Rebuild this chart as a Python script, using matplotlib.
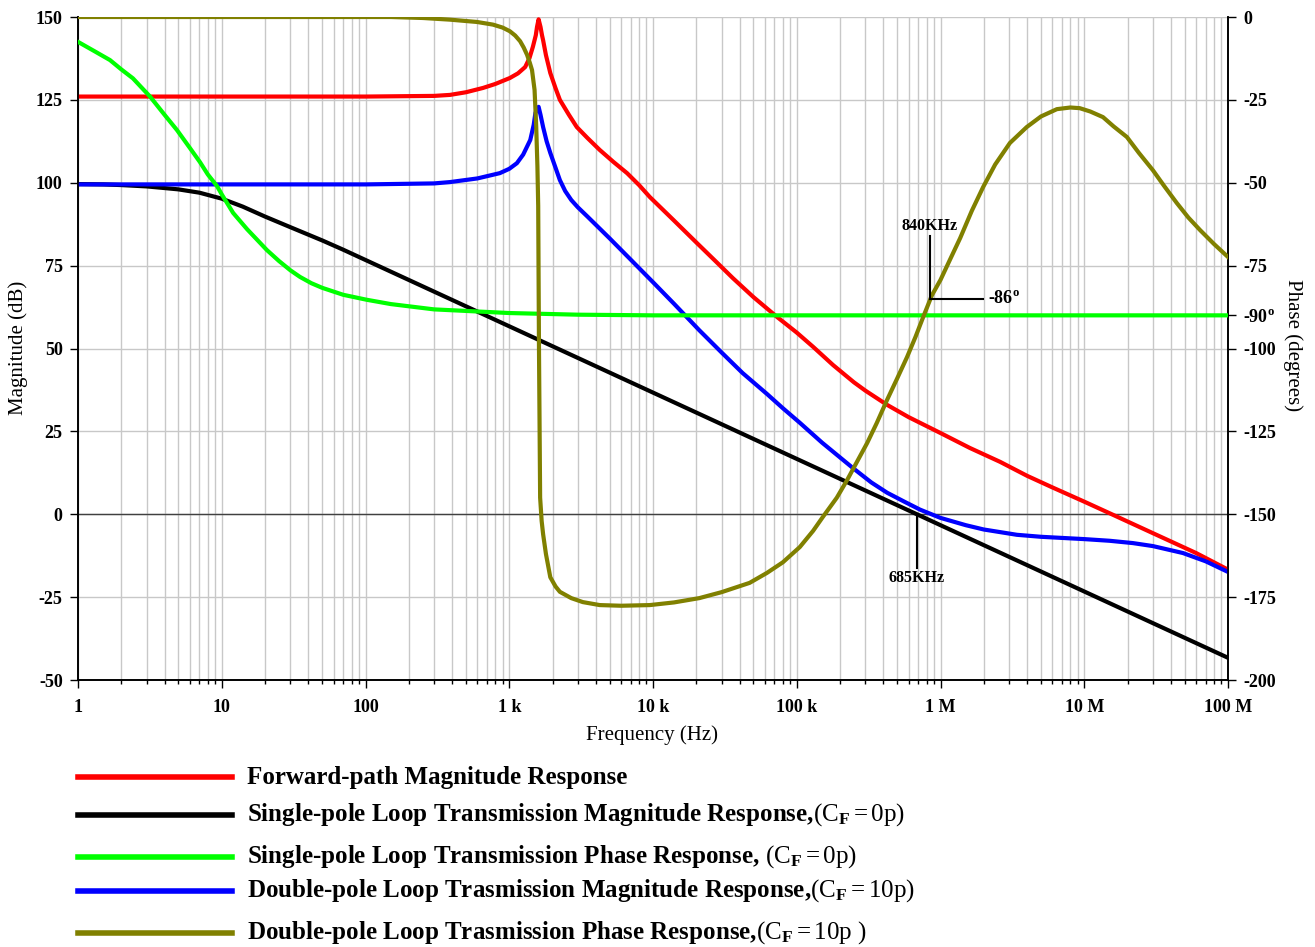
import numpy as np
import matplotlib
matplotlib.use("Agg")
import matplotlib.pyplot as plt
from matplotlib.lines import Line2D
from matplotlib.ticker import FixedLocator, LogLocator, NullFormatter

plt.rcParams["font.family"] = ["Liberation Serif", "DejaVu Serif"]
plt.rcParams["axes.unicode_minus"] = False
plt.rcParams["mathtext.fontset"] = "custom"
plt.rcParams["mathtext.rm"] = "Liberation Serif"
plt.rcParams["mathtext.bf"] = "Liberation Serif:bold"
plt.rcParams["mathtext.it"] = "Liberation Serif:italic"

# ---- data (frequency in Hz) ----
freq_red = [1, 100, 300, 387, 500, 657, 800, 1010, 1150, 1290, 1380, 1460, 1530, 1560,
            1600, 1650, 1690, 1720, 1800, 1930, 2100, 2250, 2600, 2950, 3500, 4260,
            5300, 6600, 8000, 9500, 14000, 20000, 27000, 36000, 50000, 73000, 100000,
            130000, 179000, 250000, 300000, 425000, 600000, 1e6, 1.6e6, 2.6e6, 4e6,
            6e6, 10e6, 14.5e6, 30e6, 60e6, 100e6]
mag_red = [126, 126, 126.2, 126.5, 127.3, 128.6, 129.8, 131.6, 133, 134.9, 137.5, 141,
           144.5, 147, 149.3, 147, 144.5, 143, 138.5, 133.1, 128.5, 125, 120.5, 116.8,
           113.5, 109.9, 106.3, 102.9, 99.3, 95.7, 88.6, 82, 76.5, 71.2, 65.5, 59.5,
           54.8, 50.5, 45, 39.8, 37.3, 33, 29.3, 24.5, 20, 15.8, 11.6, 8.1, 3.8, 0.6,
           -5.7, -11.7, -16.7]

freq_black = [1, 1.5, 2, 3, 4, 5, 7, 10, 14, 20, 30, 50, 70, 100, 1000, 10000, 100000,
              685000, 1e6, 10e6, 100e6]
mag_black = [99.6, 99.5, 99.3, 98.9, 98.4, 98.0, 97.0, 95.2, 92.8, 89.8, 86.6, 82.6,
             79.8, 76.7, 56.7, 36.7, 16.7, 0, -3.3, -23.3, -43.3]

freq_blue = [1, 100, 300, 387, 600, 860, 1000, 1130, 1250, 1400, 1480, 1520, 1570, 1600,
             1650, 1720, 1820, 1930, 2100, 2250, 2450, 2700, 3000, 3500, 5000, 7000,
             10000, 14000, 21000, 30000, 42000, 62000, 80000, 105000, 150000, 245000,
             330000, 425000, 560000, 720000, 1e6, 1.5e6, 2e6, 3.4e6, 5e6, 10e6, 15e6,
             21.8e6, 30e6, 48.6e6, 70e6, 100e6]
mag_blue = [99.5, 99.5, 99.8, 100.2, 101.3, 102.9, 104.2, 105.9, 108.5, 112.9, 117.5,
            121, 122.5, 122.9, 120.5, 116.8, 112.5, 109, 104.5, 100.8, 97.5, 94.8, 92.6,
            89.8, 83.2, 76.8, 70, 63.5, 55.5, 48.8, 42.6, 36.3, 32, 27.6, 21.6, 14, 9.6,
            6.5, 3.8, 1.4, -1.1, -3.3, -4.6, -6.2, -6.8, -7.5, -8.0, -8.7, -9.6, -11.7,
            -14.2, -17.4]

freq_green = [1, 1.3, 1.67, 2, 2.41, 3.17, 4, 4.88, 6, 7.06, 8, 9.27, 10, 12, 15, 20.6,
              25, 30, 35, 42, 50, 70, 102, 150, 300, 1000, 3000, 10000, 100e6]
ph_green = [-7.5, -10.3, -13, -15.8, -18.5, -24, -29.5, -34.1, -39.5, -43.8, -47.5,
            -51, -53.5, -59.1, -64, -70.3, -73.6, -76.4, -78.4, -80.3, -81.7, -83.8,
            -85.3, -86.6, -88.2, -89.3, -89.8, -90, -90]

freq_olive = [1, 150, 251, 387, 597, 771, 900, 1010, 1100, 1190, 1260, 1330, 1390, 1440,
              1500, 1540, 1570, 1590, 1610, 1640, 1680, 1720, 1800, 1930, 2100, 2250,
              2700, 3250, 4260, 6000, 9500, 14000, 21000, 30000, 47000, 62000, 80000,
              105000, 130000, 152000, 190000, 224000, 260000, 309000, 360000, 425000,
              500000, 585000, 670000, 758000, 870000, 1e6, 1.17e6, 1.37e6, 1.65e6,
              1.98e6, 2.4e6, 3.04e6, 3.98e6, 5e6, 6.45e6, 8e6, 9.3e6, 11e6, 13.5e6,
              16e6, 19.8e6, 24e6, 30e6, 36e6, 44e6, 53e6, 64e6, 80e6, 100e6]
ph_olive = [0, 0, -0.3, -0.8, -1.5, -2.3, -3.2, -4.3, -5.6, -7.3, -9.2, -11.4, -13.8,
            -16, -22, -33, -45, -57, -100, -145, -152, -156, -162, -169, -171.8,
            -173.4, -175.3, -176.5, -177.4, -177.6, -177.4, -176.6, -175.3, -173.5,
            -170.7, -167.7, -164.5, -159.9, -155, -150.8, -145, -139.7, -134.5, -128.5,
            -122.5, -115.5, -109, -102.6, -96.5, -90.5, -84, -79.3, -73, -66.7, -58.5,
            -51.3, -44.5, -38, -33.2, -30, -27.8, -27.3, -27.5, -28.5, -30.2, -33,
            -36.2, -41, -46.2, -51, -56.1, -60.5, -64.3, -68.5, -72.4]

mag_ticks = [150, 125, 100, 75, 50, 25, 0, -25, -50]
phase_ticks = [0, -25, -50, -75, -90, -100, -125, -150, -175, -200]
phase_labels = ["0", "-25", "-50", "-75", r"-90$^{\mathbf{o}}$", "-100", "-125",
                "-150", "-175", "-200"]
freq_ticks = [1, 10, 100, 1e3, 1e4, 1e5, 1e6, 1e7, 1e8]
freq_labels = ["1", "10", "100", "1 k", "10 k", "100 k", "1 M", "10 M", "100 M"]

legend_items = [
    ("#ff0000", "Forward-path Magnitude Response"),
    ("#000000", r"Single-pole Loop Transmission Magnitude Response,$\mathrm{(C_{\mathbf{F}} = 0p)}$"),
    ("#00ff00", r"Single-pole Loop Transmission Phase Response, $\mathrm{(C_{\mathbf{F}} = 0p)}$"),
    ("#0000ff", r"Double-pole Loop Trasmission Magnitude Response,$\mathrm{(C_{\mathbf{F}} = 10p)}$"),
    ("#808000", r"Double-pole Loop Trasmission Phase Response,$\mathrm{(C_{\mathbf{F}} = 10p\ )}$"),
]
legend_y = [777, 815, 857, 891, 933]

W, H = 1315, 947
fig = plt.figure(figsize=(W / 100, H / 100), dpi=100)
ax = fig.add_axes([78 / W, 1 - 680 / H, 1150 / W, 663 / H])
ax2 = ax.twinx()

ax.set_xscale("log")
ax.set_xlim(1, 1e8)
ax.set_ylim(-50, 150)
ax2.set_ylim(-200, 0)

# grid
ax.xaxis.set_major_locator(FixedLocator(freq_ticks))
ax.xaxis.set_minor_locator(LogLocator(base=10, subs=np.arange(2, 10)))
ax.xaxis.set_minor_formatter(NullFormatter())
ax.set_xticklabels(freq_labels)
ax.set_yticks(mag_ticks)
ax.grid(True, which="both", axis="x", color="#c8c8c8", lw=1.0)
ax.grid(True, which="major", axis="y", color="#c8c8c8", lw=1.0)
ax.axhline(0, color="#404040", lw=1.0, zorder=1.5)
ax.set_axisbelow(True)

lw = 3.0
ax.plot(freq_red, mag_red, color="#ff0000", lw=lw, zorder=3)
ax.plot(freq_black, mag_black, color="#000000", lw=lw, zorder=3)
ax.plot(freq_blue, mag_blue, color="#0000ff", lw=lw, zorder=3)
ax2.plot(freq_green, ph_green, color="#00ff00", lw=lw, zorder=3)
ax2.plot(freq_olive, ph_olive, color="#808000", lw=lw, zorder=3)

ax2.set_yticks(phase_ticks)
ax2.set_yticklabels(phase_labels)

for a in (ax, ax2):
    a.spines["top"].set_visible(False)
    for s in ("left", "right", "bottom"):
        a.spines[s].set_linewidth(1.2)
    a.tick_params(which="major", direction="out", length=6, width=1, pad=5)
    a.tick_params(which="minor", direction="out", length=3, width=1)
ax.tick_params(axis="x", which="major", pad=8)

tick_font = dict(family="Liberation Serif", weight="bold", size=13)
for lab in ax.get_xticklabels() + ax.get_yticklabels() + ax2.get_yticklabels():
    lab.set_fontproperties(tick_font)

label_font = dict(family="Liberation Serif", size=15)
fig.text(652 / W, 1 - 735 / H, "Frequency (Hz)", ha="center", va="center", **label_font)
fig.text(18 / W, 1 - 348 / H, "Magnitude (dB)", ha="center", va="center",
         rotation=90, **label_font)
fig.text(1293 / W, 1 - 345 / H, "Phase (degrees)", ha="center", va="center",
         rotation=270, **label_font)

# annotations
ann = dict(color="black", lw=1.5, zorder=5)
ax2.plot([840e3, 840e3], [-66, -85], **ann)
ax2.plot([840e3, 1.98e6], [-85, -85], **ann)
ax2.text(840e3, -63, "840KHz", ha="center", va="center", fontsize=11.5,
         weight="bold", zorder=6)
ax2.text(2.15e6, -85, r"-86$^{\mathbf{o}}$", ha="left", va="center", fontsize=13,
         weight="bold", zorder=6)
ax.plot([685e3, 685e3], [0, -16.2], **ann)
ax.text(685e3, -19.2, "685KHz", ha="center", va="center", fontsize=11.5,
        weight="bold", zorder=6)

# legend drawn under the chart
for (color, text), y in zip(legend_items, legend_y):
    yf = 1 - y / H
    fig.add_artist(Line2D([78 / W, 232 / W], [yf, yf], color=color, lw=4,
                          transform=fig.transFigure))
    fig.text(247 / W, yf, text, ha="left", va="center", fontsize=18, weight="bold")

fig.savefig("out.png", dpi=100)
